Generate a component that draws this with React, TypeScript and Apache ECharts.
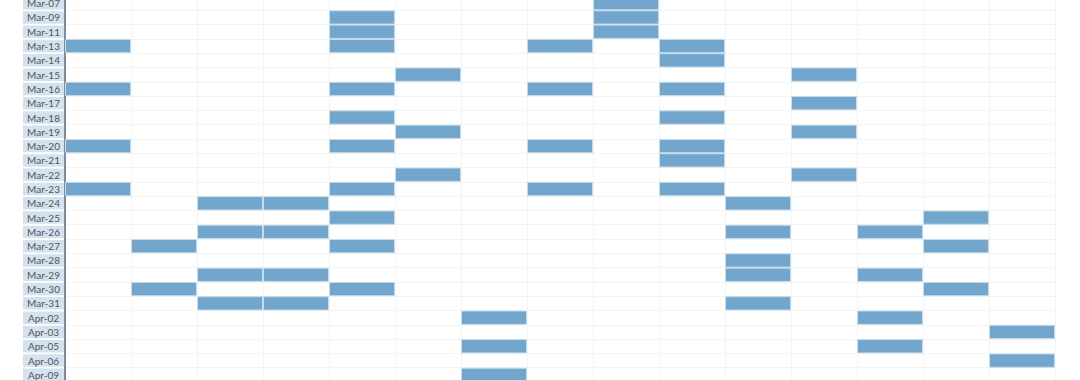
import React, { useEffect, useRef } from "react";
import * as echarts from "echarts";

// Row categories (top to bottom)
const dates: string[] = [
  "Mar-07", "Mar-09", "Mar-11", "Mar-13", "Mar-14", "Mar-15", "Mar-16", "Mar-17",
  "Mar-18", "Mar-19", "Mar-20", "Mar-21", "Mar-22", "Mar-23", "Mar-24", "Mar-25",
  "Mar-26", "Mar-27", "Mar-28", "Mar-29", "Mar-30", "Mar-31", "Apr-02", "Apr-03",
  "Apr-05", "Apr-06", "Apr-09",
];

// Column categories (labels not visible in the reference)
const columns: string[] = [
  "C1", "C2", "C3", "C4", "C5", "C6", "C7", "C8",
  "C9", "C10", "C11", "C12", "C13", "C14", "C15",
];

// Filled column indices for each date row
const filled: number[][] = [
  [8],            // Mar-07
  [4, 8],         // Mar-09
  [4, 8],         // Mar-11
  [0, 4, 7, 9],   // Mar-13
  [9],            // Mar-14
  [5, 11],        // Mar-15
  [0, 4, 7, 9],   // Mar-16
  [11],           // Mar-17
  [4, 9],         // Mar-18
  [5, 11],        // Mar-19
  [0, 4, 7, 9],   // Mar-20
  [9],            // Mar-21
  [5, 11],        // Mar-22
  [0, 4, 7, 9],   // Mar-23
  [2, 3, 10],     // Mar-24
  [4, 13],        // Mar-25
  [2, 3, 10, 12], // Mar-26
  [1, 4, 13],     // Mar-27
  [10],           // Mar-28
  [2, 3, 10, 12], // Mar-29
  [1, 4, 13],     // Mar-30
  [2, 3, 10],     // Mar-31
  [6, 12],        // Apr-02
  [14],           // Apr-03
  [6, 12],        // Apr-05
  [14],           // Apr-06
  [6],            // Apr-09
];

export default function App() {
  const ref = useRef<HTMLDivElement>(null);
  useEffect(() => {
    if (!ref.current) return;
    const chart = echarts.init(ref.current, undefined, { renderer: "svg" });
    const data: number[][] = [];
    filled.forEach((cols, row) => cols.forEach((c) => data.push([c, row, 1])));
    chart.setOption({
      animation: false,
      grid: { left: 65, right: 25, top: 0, bottom: 0, containLabel: false },
      xAxis: {
        type: "category",
        data: columns,
        axisLine: { show: false },
        axisTick: { show: false },
        axisLabel: { show: false },
        splitLine: { show: true, interval: 0, lineStyle: { color: "#f4f4f4", width: 1 } },
      },
      yAxis: {
        type: "category",
        data: dates,
        inverse: true,
        axisLine: { show: true, lineStyle: { color: "#56677a", width: 1.5 } },
        axisTick: { show: false },
        splitLine: { show: true, interval: 0, lineStyle: { color: "#f4f4f4", width: 1 } },
        axisLabel: {
          interval: 0,
          margin: 1,
          formatter: (v: string) => `{a|${v}}`,
          rich: {
            a: {
              width: 41,
              height: 12.5,
              lineHeight: 12.5,
              align: "center",
              backgroundColor: "#d3e2ee",
              color: "#555",
              fontSize: 10,
              fontFamily: "Lato",
            },
          },
        },
      },
      series: [
        {
          type: "custom",
          data,
          encode: { x: 0, y: 1 },
          renderItem: (params: any, api: any) => {
            const p = api.coord([api.value(0), api.value(1)]);
            const s = api.size([1, 1]);
            return {
              type: "rect",
              shape: { x: p[0] - s[0] / 2 + 0.5, y: p[1] - s[1] / 2 + 0.5, width: s[0] - 1, height: s[1] - 1 },
              style: { fill: "#72a6cd", stroke: "#c6dbec", lineWidth: 1 },
            };
          },
        },
      ],
    });
    return () => chart.dispose();
  }, []);
  return (
    <div style={{ position: "fixed", left: 0, top: 0, width: 1080, height: 380, overflow: "hidden", background: "#fff" }}>
      <div
        ref={ref}
        style={{ position: "absolute", left: 0, top: -4, width: 1080, height: 386 }}
      />
    </div>
  );
}
